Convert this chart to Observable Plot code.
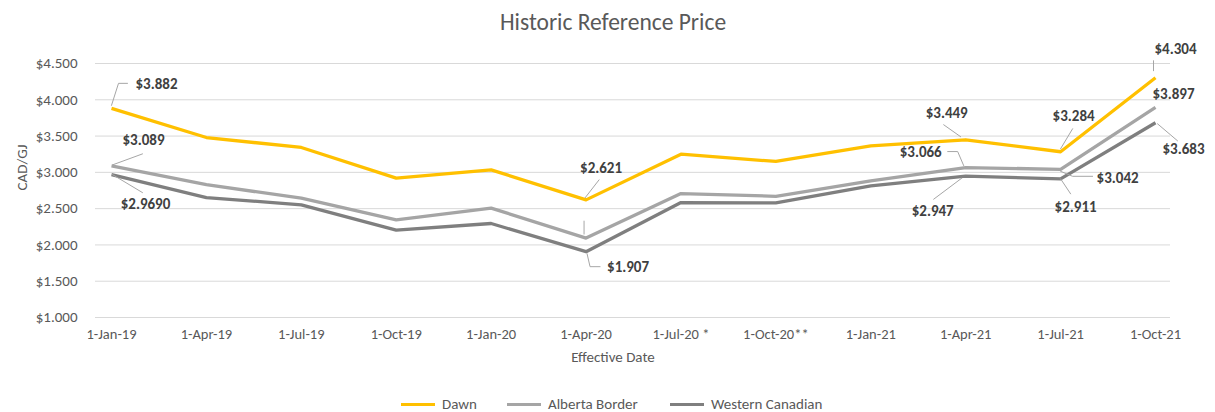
<!DOCTYPE html>
<html>
<head>
<meta charset="utf-8">
<script src="https://cdn.jsdelivr.net/npm/d3@7"></script>
<script src="https://cdn.jsdelivr.net/npm/@observablehq/plot@0.6"></script>
<style>
  html, body { margin: 0; padding: 0; background: #fff; }
  #wrap { position: relative; width: 1215px; height: 412px; overflow: hidden; }
  #legend { position: absolute; top: 395px; left: 0; width: 1215px; height: 18px;
            font-family: Carlito, Calibri, Lato, sans-serif; font-size: 15px; color: #595959; }
  #legend .item { position: absolute; top: 0; height: 18px; display: flex; align-items: center; }
  #legend .sw { width: 34px; height: 3px; margin-right: 7px; }
</style>
</head>
<body>
<div id="wrap"><div id="chart"></div><div id="legend"></div></div>
<script>
// ---- data ----
const dates = ["1-Jan-19","1-Apr-19","1-Jul-19","1-Oct-19","1-Jan-20","1-Apr-20","1-Jul-20 *","1-Oct-20**","1-Jan-21","1-Apr-21","1-Jul-21","1-Oct-21"];
const seriesNames = ["Dawn", "Alberta Border", "Western Canadian"];
const dawn     = [3.882, 3.48, 3.343, 2.92, 3.034, 2.621, 3.25, 3.15, 3.365, 3.449, 3.284, 4.304];
const alberta  = [3.089, 2.83, 2.645, 2.346, 2.507, 2.094, 2.708, 2.67, 2.883, 3.066, 3.042, 3.897];
const western  = [2.969, 2.653, 2.552, 2.204, 2.295, 1.907, 2.584, 2.58, 2.814, 2.947, 2.911, 3.683];
const yTicks = [1, 1.5, 2, 2.5, 3, 3.5, 4, 4.5];
const title = "Historic Reference Price";
const xTitle = "Effective Date";
const yTitle = "CAD/GJ";

// ---- styles / layout ----
const colors = {"Dawn": "#FFC000", "Alberta Border": "#A5A5A5", "Western Canadian": "#7F7F7F"};
const W = 1215, H = 412, mL = 95, mR = 45, mT = 63, mB = 95;
const xDom = [-0.1686, 11.158], yDom = [1, 4.5];
const kx = (W - mL - mR) / (xDom[1] - xDom[0]);   // px per category step
const ky = (H - mT - mB) / (yDom[1] - yDom[0]);   // px per dollar
const font = "Carlito, Calibri, Lato, sans-serif";
const legendLeft = [401, 507, 670];

// ---- table ----
const valuesBy = {"Dawn": dawn, "Alberta Border": alberta, "Western Canadian": western};
const rows = seriesNames.flatMap(s => valuesBy[s].map((v, i) => ({series: s, i, v})));

// ---- data-label annotations: label offset [px] and leader path [px], relative to the point ----
const annots = [
  {s: "Dawn", i: 0, dec: 3, lab: [45, -24], lead: [[0,-3],[7,-25],[16,-25]]},
  {s: "Alberta Border", i: 0, dec: 3, lab: [32, -26], lead: [[1,-1],[31,-12]]},
  {s: "Western Canadian", i: 0, dec: 4, lab: [34, 30], lead: [[1,0],[31,18]]},
  {s: "Dawn", i: 5, dec: 3, lab: [15, -32], lead: [[-1,-2],[13,-20]]},
  {s: "Alberta Border", i: 5, dec: 3, lab: null, lead: [[-2,-4],[-2,-17]]},
  {s: "Western Canadian", i: 5, dec: 3, lab: [42, 16], lead: [[1,2],[4,15],[14,15]]},
  {s: "Dawn", i: 9, dec: 3, lab: [-19, -27], lead: [[-22,-15],[-5,-3]]},
  {s: "Alberta Border", i: 9, dec: 3, lab: [-45, -15], lead: [[-18,-16],[-8,-16],[-2,-2]]},
  {s: "Western Canadian", i: 9, dec: 3, lab: [-33, 35], lead: [[-4,2],[-32,23]]},
  {s: "Dawn", i: 10, dec: 3, lab: [13, -36], lead: [[12,-23],[0,-3]]},
  {s: "Alberta Border", i: 10, dec: 3, lab: [57, 9], lead: [[0,2],[12,7],[32,7]]},
  {s: "Western Canadian", i: 10, dec: 3, lab: [15, 28], lead: [[0,0],[10,15]]},
  {s: "Dawn", i: 11, dec: 3, lab: [20, -29], lead: [[-2,-17],[-2,-7]]},
  {s: "Alberta Border", i: 11, dec: 3, lab: [18, -13], lead: null},
  {s: "Western Canadian", i: 11, dec: 3, lab: [28, 26], lead: [[2,1],[22,18]]}
];
const labelRows = annots.filter(a => a.lab).map(a => {
  const v = valuesBy[a.s][a.i];
  return {x: a.i + a.lab[0] / kx, y: v - a.lab[1] / ky, text: d3.format("$." + a.dec + "f")(v)};
});
const leaderRows = annots.filter(a => a.lead).flatMap((a, k) => {
  const v = valuesBy[a.s][a.i];
  return a.lead.map(p => ({id: k, x: a.i + p[0] / kx, y: v - p[1] / ky}));
});

const plot = Plot.plot({
  width: W, height: H,
  marginLeft: mL, marginRight: mR, marginTop: mT, marginBottom: mB,
  style: {fontFamily: font, fontSize: "15px", background: "#fff", overflow: "visible"},
  x: {domain: xDom, axis: null},
  y: {domain: yDom, axis: null},
  marks: [
    Plot.ruleY(yTicks, {stroke: "#D9D9D9", strokeWidth: 1}),
    Plot.axisY(yTicks, {tickSize: 0, tickPadding: 18, tickFormat: d3.format("$.3f"), label: null,
                        fontSize: 15, fill: "#595959"}),
    Plot.axisX(d3.range(dates.length), {tickSize: 0, tickPadding: 11, tickFormat: i => dates[i], label: null,
                        fontSize: 14.5, fill: "#595959"}),
    Plot.line(rows, {x: "i", y: "v", z: "series", stroke: d => colors[d.series], strokeWidth: 3.3,
                     strokeLinejoin: "round", strokeLinecap: "butt"}),
    Plot.line(leaderRows, {x: "x", y: "y", z: "id", stroke: "#A6A6A6", strokeWidth: 1}),
    Plot.text(labelRows, {x: "x", y: "y", text: "text", fontSize: 15, fontWeight: "bold", fill: "#404040"}),
    Plot.text([title], {frameAnchor: "top", lineAnchor: "middle", dx: -20, dy: -41, fontSize: 23.5, fill: "#595959"}),
    Plot.text([xTitle], {frameAnchor: "bottom", lineAnchor: "middle", dx: -20, dy: 40, fontSize: 15, fill: "#595959"}),
    Plot.text([yTitle], {frameAnchor: "left", dx: -73, rotate: -90, fontSize: 15, fill: "#595959"})
  ]
});
document.getElementById("chart").appendChild(plot);

// ---- legend ----
const legend = document.getElementById("legend");
seriesNames.forEach((s, k) => {
  const it = document.createElement("div");
  it.className = "item";
  it.style.left = legendLeft[k] + "px";
  const sw = document.createElement("div");
  sw.className = "sw"; sw.style.background = colors[s];
  const t = document.createElement("span"); t.textContent = s;
  it.appendChild(sw); it.appendChild(t);
  legend.appendChild(it);
});
</script>
</body>
</html>
